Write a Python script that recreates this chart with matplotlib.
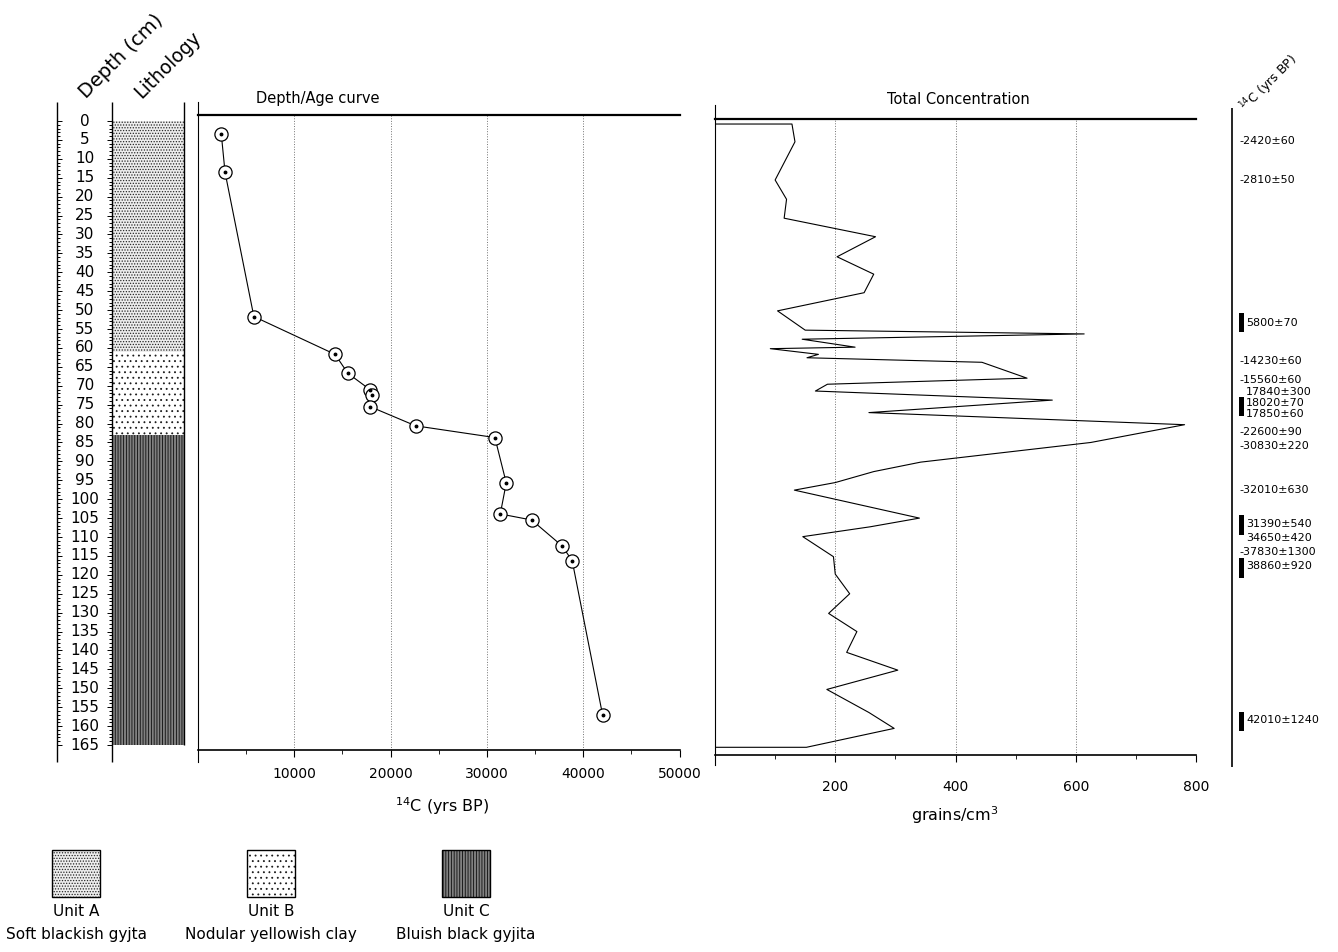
import numpy as np
import matplotlib
matplotlib.use('Agg')
import matplotlib.pyplot as plt
from matplotlib.patches import Rectangle

W, H = 1338, 952
PX = 3.782   # pixels per cm of depth
Y0 = 121     # pixel row of depth 0

# radiocarbon dates (yrs BP) against sample depth (cm)
ages = [2420, 2810, 5800, 14230, 15560, 17840, 18020, 17850,
        22600, 30830, 32010, 31390, 34650, 37830, 38860, 42010]
age_depth = [3.5, 13.6, 51.7, 61.7, 66.7, 71.0, 72.5, 75.5,
             80.6, 83.7, 95.7, 103.9, 105.5, 112.4, 116.3, 157.0]

# total concentration (grains/cm3) against depth (cm)
conc = [0, 128, 133, 100, 119, 115, 267, 203, 264, 248, 104, 150, 614, 145,
        233, 92, 172, 153, 444, 519, 187, 167, 561, 256, 781, 625, 342, 264,
        200, 132, 340, 258, 146, 197, 200, 224, 189, 236, 219, 304, 186, 256,
        298, 152, 0]
conc_depth = [0.8, 0.8, 5.5, 15.6, 20.7, 25.7, 30.6, 35.9, 40.5, 45.4, 50.2,
              55.3, 56.3, 57.7, 59.8, 60.2, 61.7, 62.6, 63.8, 68.0, 69.6, 71.4,
              73.8, 77.1, 80.3, 85.0, 90.2, 92.7, 95.6, 97.6, 105.0, 107.3,
              109.9, 115.2, 119.8, 125.0, 130.2, 135.0, 140.5, 145.2, 150.3,
              156.4, 160.6, 165.6, 165.6]

# date labels on the right hand scale
date_labels = ['-2420±60', '-2810±50', '5800±70', '-14230±60', '-15560±60',
               '17840±300', '18020±70', '17850±60', '-22600±90', '-30830±220',
               '-32010±630', '31390±540', '34650±420', '-37830±1300',
               '38860±920', '42010±1240']
date_label_depth = [5.3, 15.6, 53.4, 63.5, 68.5, 71.6, 74.6, 77.6, 82.3, 85.9,
                    97.6, 106.6, 110.3, 114.0, 117.7, 158.4]
bar_top = [50.8, 72.9, 104.2, 115.5, 156.2]
bar_bottom = [55.9, 78.0, 109.5, 120.8, 161.2]

# lithology
units = ['Unit A', 'Unit B', 'Unit C']
unit_desc = ['Soft blackish gyjta', 'Nodular yellowish clay', 'Bluish black gyjita']
unit_top = [0, 61, 83]
unit_bottom = [61, 83, 165]

age_ticks = [10000, 20000, 30000, 40000, 50000]
conc_ticks = [200, 400, 600, 800]

plt.rcParams['font.family'] = 'DejaVu Sans'
plt.rcParams['hatch.linewidth'] = 0.6

unit_style = [dict(facecolor='0.93', edgecolor='0.15', hatch='......'),
              dict(facecolor='white', edgecolor='0.1', hatch='...'),
              dict(facecolor='0.5', edgecolor='0.05', hatch='||||||')]


def dep(y):
    return (y - Y0) / PX


def add_ax(x0, y0, x1, y1):
    return fig.add_axes([x0 / W, 1 - y1 / H, (x1 - x0) / W, (y1 - y0) / H])


fig = plt.figure(figsize=(W / 100, H / 100), dpi=100)

# overlay in pixel coordinates for headings and legend
ov = add_ax(0, 0, W, H)
ov.set_xlim(0, W)
ov.set_ylim(H, 0)
ov.axis('off')

# depth scale + lithology column
axd = add_ax(50, 100, 190, 765)
axd.set_xlim(50, 190)
axd.set_ylim(dep(765), dep(100))
axd.axis('off')
axd.vlines([57, 112], dep(762), dep(102), color='k', lw=1)
axd.vlines(184, 165, dep(102), color='k', lw=1)
cm = np.arange(0, 166)
major = cm % 5 == 0
ln = np.where(major, 5, 3)
axd.hlines(cm, 57, 57 + ln, color='k', lw=0.7)
axd.hlines(cm, 112 - ln, 112, color='k', lw=0.7)
for d in cm[major]:
    axd.text(85, d, str(d), ha='center', va='center', fontsize=11)
for t, b, st in zip(unit_top, unit_bottom, unit_style):
    axd.add_patch(Rectangle((112, t), 72, b - t, lw=0, **st))

# depth / age curve
ax1 = add_ax(198, 115, 679.5, 750)
ax1.plot(ages, age_depth, color='k', lw=0.8)
ax1.plot(ages, age_depth, 'o', ms=9.5, mfc='white', mec='k', mew=0.9)
ax1.plot(ages, age_depth, 'o', ms=1.8, color='k')
ax1.set_xlim(0, 50000)
ax1.set_ylim(dep(750), dep(115))
ax1.set_xticks(age_ticks)
ax1.set_xticks(np.arange(5000, 50000, 10000), minor=True)
ax1.tick_params(axis='x', which='major', direction='out', length=5, pad=7, labelsize=10)
ax1.tick_params(axis='x', which='minor', direction='out', length=3)
ax1.tick_params(axis='y', left=False, labelleft=False)
ax1.grid(axis='x', which='major', ls=':', color='0.45', lw=0.7)
ax1.spines['right'].set_visible(False)
ax1.spines['top'].set_linewidth(1.6)
ax1.spines['bottom'].set_linewidth(1.2)
ax1.spines['left'].set_bounds(dep(762), dep(102))

# total concentration
ax2 = add_ax(715, 119, 1196, 755)
ax2.plot(conc, conc_depth, color='k', lw=0.8)
ax2.set_xlim(0, 800)
ax2.set_ylim(dep(755), dep(119))
ax2.set_xticks(conc_ticks)
ax2.set_xticks(np.arange(100, 800, 200), minor=True)
ax2.tick_params(axis='x', which='major', direction='out', length=5, pad=13, labelsize=10)
ax2.tick_params(axis='x', which='minor', direction='out', length=3)
ax2.tick_params(axis='y', left=False, labelleft=False)
ax2.grid(axis='x', which='major', ls=':', color='0.45', lw=0.7)
ax2.spines['right'].set_visible(False)
ax2.spines['top'].set_linewidth(1.6)
ax2.spines['bottom'].set_linewidth(1.2)
ax2.spines['left'].set_bounds(dep(765), dep(105))

# right hand date scale
ax3 = add_ax(1225, 100, 1338, 770)
ax3.set_xlim(1225, 1338)
ax3.set_ylim(dep(770), dep(100))
ax3.axis('off')
ax3.vlines(1232, dep(767), dep(108), color='k', lw=1.2)
for lbl, d in zip(date_labels, date_label_depth):
    x = 1239 if lbl.startswith('-') else 1246
    ax3.text(x, d, lbl, ha='left', va='center', fontsize=8)
for t, b in zip(bar_top, bar_bottom):
    ax3.add_patch(Rectangle((1239, t), 5, b - t, color='k', lw=0))

# headings
ov.text(86, 99, 'Depth (cm)', rotation=45, rotation_mode='anchor',
        ha='left', va='baseline', fontsize=14)
ov.text(141, 99, 'Lithology', rotation=45, rotation_mode='anchor',
        ha='left', va='baseline', fontsize=13.5)
ov.text(1246, 113, r'$^{14}$C (yrs BP)', rotation=45, rotation_mode='anchor',
        ha='left', va='baseline', fontsize=9)
ov.text(318, 99, 'Depth/Age curve', ha='center', va='center', fontsize=10.5)
ov.text(958, 99, 'Total Concentration', ha='center', va='center', fontsize=10.5)
ov.text(442, 806, r'$^{14}$C (yrs BP)', ha='center', va='center', fontsize=11.5)
ov.text(955, 815, r'grains/cm$^3$', ha='center', va='center', fontsize=11.5)

# legend
for i, (u, desc, st) in enumerate(zip(units, unit_desc, unit_style)):
    cx = 76 + i * 195
    ov.add_patch(Rectangle((cx - 24, 850), 48, 47, lw=0, **st))
    ov.add_patch(Rectangle((cx - 24, 850), 48, 47, fill=False, ec='k', lw=1))
    ov.text(cx, 912, u, ha='center', va='center', fontsize=11)
    ov.text(cx, 935, desc, ha='center', va='center', fontsize=11)

fig.savefig('out.png', dpi=100)
